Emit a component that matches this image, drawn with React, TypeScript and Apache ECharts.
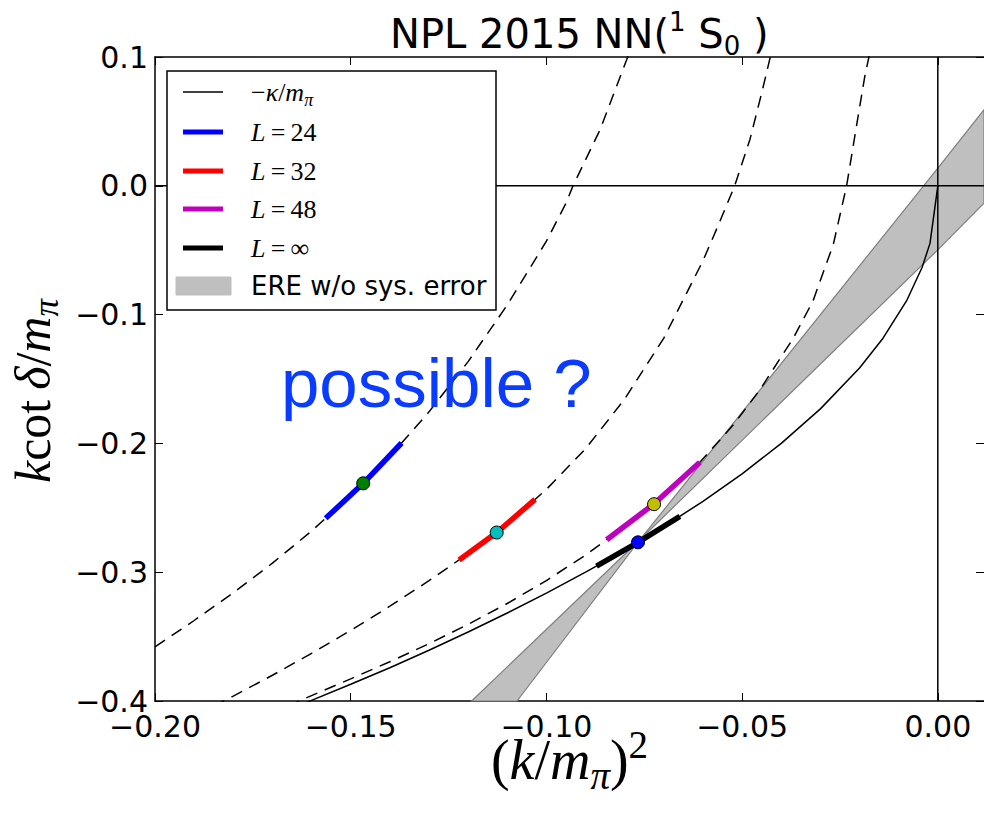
import React, { useEffect, useRef } from "react";
import * as echarts from "echarts";

// ---------- axis ranges / ticks ----------
const X_MIN = -0.2;
const X_MAX = 0.0118;
const X_STEP = 0.05;
const Y_MIN = -0.4;
const Y_MAX = 0.1;
const Y_STEP = 0.1;

// ---------- curves ----------
const dashedL24: number[][] = [
  [-0.2, -0.358], [-0.19, -0.3375], [-0.18, -0.316], [-0.17, -0.293], [-0.16, -0.268],
  [-0.15, -0.2405], [-0.14, -0.21], [-0.13, -0.1755], [-0.12, -0.1365], [-0.11, -0.0925],
  [-0.1, -0.043], [-0.095, -0.0135], [-0.0932, 0.0], [-0.0863, 0.0435], [-0.0795, 0.0978],
  [-0.079, 0.102],
];
const dashedL32: number[][] = [
  [-0.185, -0.404], [-0.18, -0.3962], [-0.17, -0.38], [-0.16, -0.363], [-0.15, -0.3452],
  [-0.14, -0.3264], [-0.13, -0.3066], [-0.12, -0.2856], [-0.1127, -0.2692], [-0.11, -0.2627],
  [-0.1, -0.2357], [-0.09, -0.2042], [-0.08, -0.1655], [-0.07, -0.1182], [-0.06, -0.0582],
  [-0.056, -0.03], [-0.0519, 0.0], [-0.048, 0.036], [-0.045, 0.072], [-0.0428, 0.1],
  [-0.0425, 0.104],
];
const dashedL48: number[][] = [
  [-0.166, -0.404], [-0.1625, -0.3991], [-0.15, -0.3828], [-0.14, -0.3695], [-0.13, -0.3555],
  [-0.12, -0.3405], [-0.11, -0.3243], [-0.1, -0.3065], [-0.09, -0.2867], [-0.0846, -0.2748],
  [-0.0727, -0.2474], [-0.0608, -0.2147], [-0.0523, -0.1858], [-0.0455, -0.1586], [-0.037, -0.1187],
  [-0.0319, -0.0895], [-0.0267, -0.0455], [-0.0233, 0.0], [-0.0208, 0.046], [-0.0186, 0.086],
  [-0.0176, 0.1], [-0.0174, 0.104],
];
const kappaCurve: number[][] = [
  [-0.1625, -0.403], [-0.16, -0.3995], [-0.15, -0.387], [-0.14, -0.3742], [-0.13, -0.3606],
  [-0.12, -0.3464], [-0.11, -0.3317], [-0.1, -0.3162], [-0.09, -0.3], [-0.08, -0.283],
  [-0.07, -0.2646], [-0.06, -0.245], [-0.05, -0.2236], [-0.04, -0.2], [-0.03, -0.1732],
  [-0.02, -0.1414], [-0.014, -0.1183], [-0.008, -0.0894], [-0.004, -0.0632], [-0.002, -0.0447],
  [0.0, 0.0],
];

// ---------- highlighted segments and points ----------
const segL24: number[][] = [[-0.1564, -0.2582], [-0.1468, -0.231], [-0.137, -0.1997]];
const segL32: number[][] = [[-0.1223, -0.2905], [-0.1127, -0.2692], [-0.1029, -0.2435]];
const segL48: number[][] = [[-0.0846, -0.2748], [-0.0727, -0.2474], [-0.0608, -0.2147]];
const segLinf: number[][] = [[-0.0872, -0.2953], [-0.0766, -0.2768], [-0.0659, -0.2567]];

const pointL24: number[] = [-0.1468, -0.231];
const pointL32: number[] = [-0.1127, -0.2692];
const pointL48: number[] = [-0.0725, -0.2472];
const pointLinf: number[] = [-0.0766, -0.2768];

// ---------- ERE band edges ----------
const bandEdgeA: number[][] = [[-0.1075, -0.4], [-0.0761, -0.2748], [0.0, 0.0137], [0.0118, 0.059]];
const bandEdgeB: number[][] = [[-0.1191, -0.4], [-0.0761, -0.2748], [0.0, -0.0497], [0.0118, -0.0134]];

// ---------- reference lines ----------
const zeroH: number[][] = [[X_MIN, 0], [X_MAX, 0]];
const zeroV: number[][] = [[0, Y_MIN], [0, Y_MAX]];

// ---------- texts ----------
const titleText = "{a|NPL 2015 NN(}{sup|1}{a| S}{sub|0}{a| )}";
const legendTexts = [
  "{r|−}{i|κ}{r|/}{i|m}{s|π}",
  "{i|L}{r|\u2009=\u200924}",
  "{i|L}{r|\u2009=\u200932}",
  "{i|L}{r|\u2009=\u200948}",
  "{i|L}{r|\u2009=\u2009∞}",
  "{t|ERE w/o sys. error}",
];
const xAxisName = "{r|(}{i|k}{r|/}{i|m}{s|π}{r|)}{p|2}";
const yAxisName = "{i|k}{r|cot\u2009}{i|δ}{r|/}{i|m}{s|π}";
const annotation = "possible ?";

const SANS = "'DejaVu Sans', sans-serif";
const SERIF = "'Liberation Serif', 'DejaVu Serif', serif";

const mathRich = (S: number) => ({
  i: { fontFamily: SERIF, fontStyle: "italic", fontSize: S, lineHeight: Math.round(S * 1.25), verticalAlign: "middle", color: "#000" },
  r: { fontFamily: SERIF, fontSize: S, lineHeight: Math.round(S * 1.25), verticalAlign: "middle", color: "#000" },
  s: { fontFamily: SERIF, fontStyle: "italic", fontSize: Math.round(S * 0.7), lineHeight: Math.round(S * 0.5), verticalAlign: "bottom", color: "#000" },
  p: { fontFamily: SERIF, fontSize: Math.round(S * 0.7), lineHeight: 1, verticalAlign: "top", color: "#000" },
  t: { fontFamily: SANS, fontSize: 26, lineHeight: 32, verticalAlign: "middle", color: "#000" },
});

const fmtX = (v: number) => (v < -1e-9 ? "−" : "") + Math.abs(v).toFixed(2);
const fmtY = (v: number) => (v < -1e-9 ? "−" : "") + Math.abs(v).toFixed(1);

export default function App() {
  const ref = useRef<HTMLDivElement>(null);

  useEffect(() => {
    if (!ref.current) return;
    const chart = echarts.init(ref.current, null, { renderer: "svg" });

    const legendRowsY = [92, 132, 171, 209, 248, 286];
    const legendLineColors = ["#000000", "#0000ff", "#ff0000", "#bf00bf", "#000000"];
    const legendLineWidths = [1.5, 5, 5, 5, 5];

    const graphics: any[] = [
      {
        type: "rect",
        shape: { x: 167, y: 71, width: 329, height: 239 },
        style: { fill: "#ffffff", stroke: "#000000", lineWidth: 1.5 },
        z: 100,
      },
    ];
    legendLineColors.forEach((c, k) => {
      graphics.push({
        type: "line",
        shape: { x1: 183, y1: legendRowsY[k], x2: 223, y2: legendRowsY[k] },
        style: { stroke: c, lineWidth: legendLineWidths[k] },
        z: 101,
      });
    });
    graphics.push({
      type: "rect",
      shape: { x: 176, y: 277, width: 55, height: 18 },
      style: { fill: "#bfbfbf", stroke: "#bfbfbf", lineWidth: 1 },
      z: 101,
    });
    legendTexts.forEach((t, k) => {
      graphics.push({
        type: "text",
        x: 251,
        y: legendRowsY[k],
        style: { text: t, rich: mathRich(26), verticalAlign: "middle", align: "left" },
        z: 101,
      });
    });
    graphics.push({
      type: "text",
      x: 281,
      y: 383,
      style: {
        text: annotation,
        fontFamily: "'Liberation Sans', Arial, sans-serif",
        fontSize: 69,
        fill: "#0a3cff",
        verticalAlign: "middle",
        align: "left",
      },
      z: 100,
    });

    const lineSeries = (data: number[][], color: string, width: number, type: any, z: number) => ({
      type: "line",
      data,
      symbol: "none",
      showSymbol: false,
      silent: true,
      clip: true,
      lineStyle: { color, width, type },
      z,
    });

    const dot = (p: number[], color: string) => ({
      type: "scatter",
      data: [p],
      symbol: "circle",
      symbolSize: 13,
      silent: true,
      itemStyle: { color, borderColor: "#000", borderWidth: 1, opacity: 1 },
      z: 6,
    });

    const option: any = {
      animation: false,
      backgroundColor: "#ffffff",
      title: {
        text: titleText,
        left: 385,
        top: 4,
        textStyle: {
          fontWeight: "normal",
          rich: {
            a: { fontFamily: SANS, fontSize: 40, fontWeight: "normal", color: "#000", lineHeight: 50, verticalAlign: "middle" },
            sup: { fontFamily: SANS, fontSize: 26, fontWeight: "normal", color: "#000", lineHeight: 1, verticalAlign: "top" },
            sub: { fontFamily: SANS, fontSize: 26, fontWeight: "normal", color: "#000", lineHeight: 20, verticalAlign: "bottom" },
          },
        },
      },
      grid: { left: 155, top: 57, right: 0, bottom: 113, containLabel: false, outerBoundsMode: "none" },
      xAxis: [
        {
          type: "value",
          min: X_MIN,
          max: X_MAX,
          interval: X_STEP,
          position: "bottom",
          axisLine: { show: true, onZero: false, lineStyle: { color: "#000", width: 1.5 } },
          axisTick: { show: true, inside: true, length: 8, lineStyle: { color: "#000", width: 1 } },
          axisLabel: {
            formatter: fmtX,
            fontFamily: SANS,
            fontSize: 30,
            color: "#000",
            margin: 10,
            showMaxLabel: false,
          },
          splitLine: { show: false },
          name: xAxisName,
          nameLocation: "middle",
          nameGap: 24,
          nameMoveOverlap: false,
          nameTextStyle: { rich: mathRich(56) },
        },
        {
          type: "value",
          min: X_MIN,
          max: X_MAX,
          interval: X_STEP,
          position: "top",
          axisLine: { show: true, onZero: false, lineStyle: { color: "#000", width: 1.5 } },
          axisTick: { show: true, inside: true, length: 8, lineStyle: { color: "#000", width: 1 } },
          axisLabel: { show: false },
          splitLine: { show: false },
        },
      ],
      yAxis: [
        {
          type: "value",
          min: Y_MIN,
          max: Y_MAX,
          interval: Y_STEP,
          position: "left",
          axisLine: { show: true, onZero: false, lineStyle: { color: "#000", width: 1.5 } },
          axisTick: { show: true, inside: true, length: 8, lineStyle: { color: "#000", width: 1 } },
          axisLabel: { formatter: fmtY, fontFamily: SANS, fontSize: 30, color: "#000", margin: 7 },
          splitLine: { show: false },
          name: yAxisName,
          nameLocation: "middle",
          nameRotate: 90,
          nameGap: 72,
          nameTextStyle: { rich: mathRich(50), padding: [0, 24, 0, 0] },
        },
        {
          type: "value",
          min: Y_MIN,
          max: Y_MAX,
          interval: Y_STEP,
          position: "right",
          axisLine: { show: false, onZero: false },
          axisTick: { show: true, inside: true, length: 8, lineStyle: { color: "#000", width: 1 } },
          axisLabel: { show: false },
          splitLine: { show: false },
        },
      ],
      series: [
        {
          type: "custom",
          silent: true,
          data: [[0, 0]],
          z: 1,
          renderItem: (params: any, api: any) => {
            if (params.dataIndex !== 0) return null;
            const pts = [
              ...bandEdgeA.map((p) => api.coord(p)),
              ...bandEdgeB.slice().reverse().map((p) => api.coord(p)),
            ];
            return {
              type: "polygon",
              shape: { points: pts },
              style: { fill: "#bfbfbf", stroke: "#7f7f7f", lineWidth: 1.2 },
            };
          },
        },
        lineSeries(dashedL24, "#000", 1.5, [12, 8], 2),
        lineSeries(dashedL32, "#000", 1.5, [12, 8], 2),
        lineSeries(dashedL48, "#000", 1.5, [12, 8], 2),
        lineSeries(kappaCurve, "#000", 1.5, "solid", 3),
        lineSeries(zeroH, "#000", 1.5, "solid", 3),
        lineSeries(zeroV, "#000", 1.5, "solid", 3),
        lineSeries(segL24, "#0000ff", 5.5, "solid", 4),
        lineSeries(segL32, "#ff0000", 5.5, "solid", 4),
        lineSeries(segL48, "#bf00bf", 5.5, "solid", 4),
        lineSeries(segLinf, "#000000", 5.5, "solid", 4),
        dot(pointL24, "#008000"),
        dot(pointL32, "#00bfbf"),
        dot(pointL48, "#bfbf00"),
        dot(pointLinf, "#0000ff"),
      ],
      graphic: graphics,
    };

    chart.setOption(option);
    return () => chart.dispose();
  }, []);

  return (
    <div
      ref={ref}
      style={{ position: "fixed", left: 0, top: 0, width: 984, height: 814, background: "#fff" }}
    />
  );
}
